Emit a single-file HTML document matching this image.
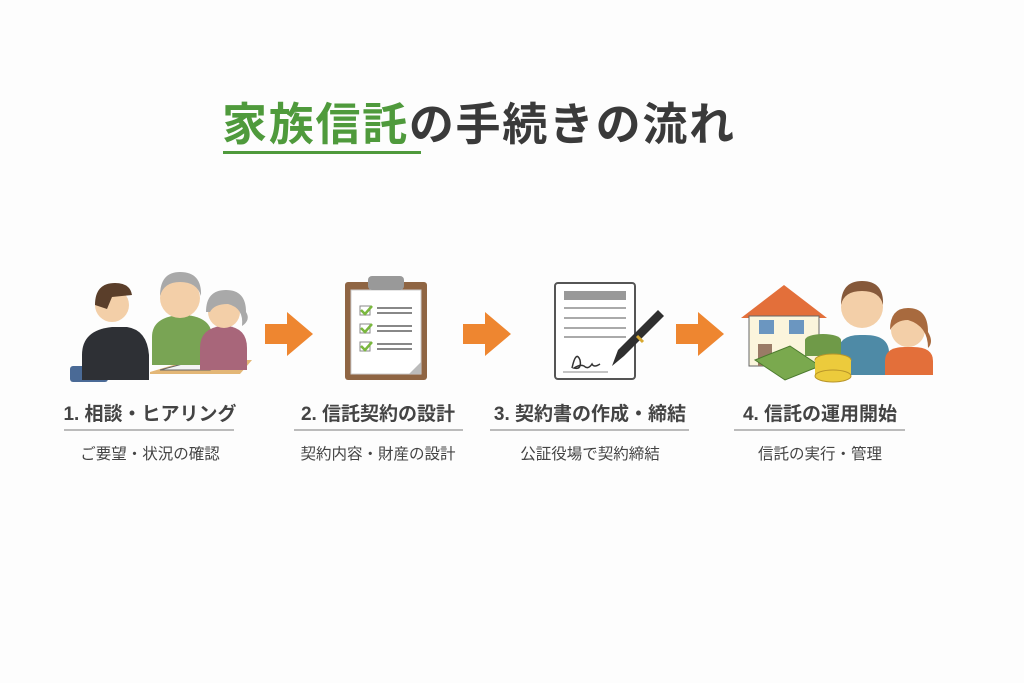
<!DOCTYPE html>
<html><head><meta charset="utf-8"><style>
body{margin:0;width:1024px;height:683px;background:#fdfdfd;position:relative;overflow:hidden;font-family:"Liberation Sans","Noto Sans CJK JP",sans-serif;}
.t{position:absolute;white-space:nowrap;}
.h{font-size:19px;font-weight:bold;color:#444;text-align:center;}
.s{font-size:15.5px;color:#444;text-align:center;}
.u{position:absolute;height:2px;background:#bbb;}
</style></head><body>
<div class="t" style="left:222px;top:88px;font-size:45px;font-weight:bold;letter-spacing:1.7px;"><span style="color:#4f9a3c">家族信託</span><span style="color:#3a3a3a">の手続きの流れ</span></div>
<div style="position:absolute;left:223px;top:151px;width:198px;height:3px;background:#4f9a3c"></div>

<svg width="1024" height="683" style="position:absolute;left:0;top:0">
<g fill="#ee8630">
<path d="M265 324h22v-12l26 22-26 22v-12h-22z"/>
<path d="M463 324h22v-12l26 22-26 22v-12h-22z"/>
<path d="M676 324h22v-12l26 22-26 22v-12h-22z"/>
</g>
<rect x="70" y="366" width="38" height="16" rx="3" fill="#4a6a96"/>
<path d="M150 372l40-12h62l-12 14h-90z" fill="#e3b777"/>
<path d="M160 370l30-8h40l-20 8z" fill="#f4f4f4" stroke="#666"/>
<path d="M82 380v-25q0-25 30-28h15q20 3 22 28v25z" fill="#2e3035"/>
<circle cx="112" cy="305" r="17" fill="#f3cfa8"/>
<path d="M95 305q0-22 20-22q15 0 17 12l-20 2-5 12z" fill="#5a3e2a"/>
<path d="M152 365v-28q0-20 28-22h5q27 2 27 22v28z" fill="#79a454"/>
<circle cx="180" cy="298" r="20" fill="#f3cfa8"/>
<path d="M160 296q0-24 20-24q22 0 21 24q-4-14-21-14q-16 0-20 14z" fill="#a9a9a9"/>
<path d="M200 370v-22q0-20 22-22h5q20 2 20 22v22z" fill="#a8667a"/>
<circle cx="224" cy="312" r="16" fill="#f3cfa8"/>
<path d="M206 312q0-22 20-22q20 0 20 22q5 8-4 14q2-18-14-22q-14 0-18 8z" fill="#a9a9a9"/>
<rect x="345" y="282" width="82" height="98" rx="3" fill="#8f6543"/>
<rect x="351" y="290" width="70" height="84" fill="#fff" stroke="#ccc"/>
<rect x="368" y="276" width="36" height="14" rx="4" fill="#999"/>
<g stroke="#888" stroke-width="2">
<rect x="360" y="306" width="10" height="9" fill="#fff" stroke-width="1"/><rect x="360" y="324" width="10" height="9" fill="#fff" stroke-width="1"/><rect x="360" y="342" width="10" height="9" fill="#fff" stroke-width="1"/>
<path d="M377 308h35M377 313h35M377 326h35M377 331h35M377 344h35M377 349h35"/></g>
<g stroke="#7ab83e" stroke-width="2.5" fill="none"><path d="M361 310l4 4 7-8M361 328l4 4 7-8M361 346l4 4 7-8"/></g>
<path d="M421 362l-12 12h12z" fill="#bbb"/>
<rect x="555" y="283" width="80" height="96" rx="3" fill="#fff" stroke="#555" stroke-width="2"/>
<rect x="564" y="291" width="62" height="9" fill="#999"/>
<g stroke="#aaa" stroke-width="2"><path d="M564 308h62M564 318h62M564 328h62M564 337h62"/></g>
<path d="M563 372h45" stroke="#888"/>
<path d="M572 368q4-18 8-8q2 10-6 8q6-4 10-2q4 4 8-2q2 4 8 0" stroke="#333" stroke-width="1.5" fill="none"/>
<path d="M612 366l6-16 40-40 6 6-40 40z" fill="#2f2f2f"/>
<path d="M637 336l6 6" stroke="#d8a830" stroke-width="3"/>
<path d="M741 318l43-33 43 33z" fill="#e36f3a"/>
<rect x="749" y="316" width="70" height="50" fill="#fbf5dc" stroke="#666"/>
<rect x="759" y="320" width="15" height="14" fill="#6b96c0"/><rect x="789" y="320" width="15" height="14" fill="#6b96c0"/>
<rect x="758" y="344" width="14" height="22" fill="#9a7b66"/>
<path d="M838 375v-22q0-18 22-18h5q24 0 24 18v22z" fill="#4e8aa6"/>
<circle cx="862" cy="307" r="21" fill="#f3cfa8"/>
<path d="M841 305q0-24 21-24q22 0 21 24q-3-14-21-14q-18 0-21 14z" fill="#86593a"/>
<path d="M885 375v-14q0-14 20-14h8q20 0 20 14v14z" fill="#e36f3a"/>
<circle cx="908" cy="330" r="17" fill="#f3cfa8"/>
<path d="M890 330q0-22 18-22q20 0 20 24q6 10 0 16q0-22-20-28q-12 0-18 10z" fill="#a86a3e"/>
<ellipse cx="823" cy="340" rx="18" ry="6" fill="#6f9a48"/><rect x="805" y="340" width="36" height="16" fill="#6f9a48"/>
<path d="M755 360l35-14 30 20-35 14z" fill="#7aa94e" stroke="#4b7a2e"/>
<ellipse cx="833" cy="360" rx="18" ry="6" fill="#eccb3c" stroke="#b8952a"/><rect x="815" y="360" width="36" height="16" fill="#eccb3c"/><ellipse cx="833" cy="376" rx="18" ry="6" fill="#eccb3c" stroke="#b8952a"/>
</svg>

<div class="t h" style="left:50px;width:200px;top:399px">1. 相談・ヒアリング</div>
<div class="u" style="left:64px;top:429px;width:170px"></div>
<div class="t s" style="left:50px;width:200px;top:442px">ご要望・状況の確認</div>

<div class="t h" style="left:278px;width:200px;top:399px">2. 信託契約の設計</div>
<div class="u" style="left:294px;top:429px;width:169px"></div>
<div class="t s" style="left:278px;width:200px;top:442px">契約内容・財産の設計</div>

<div class="t h" style="left:485px;width:210px;top:399px">3. 契約書の作成・締結</div>
<div class="u" style="left:490px;top:429px;width:199px"></div>
<div class="t s" style="left:490px;width:200px;top:442px">公証役場で契約締結</div>

<div class="t h" style="left:720px;width:200px;top:399px">4. 信託の運用開始</div>
<div class="u" style="left:734px;top:429px;width:171px"></div>
<div class="t s" style="left:720px;width:200px;top:442px">信託の実行・管理</div>
</body></html>
